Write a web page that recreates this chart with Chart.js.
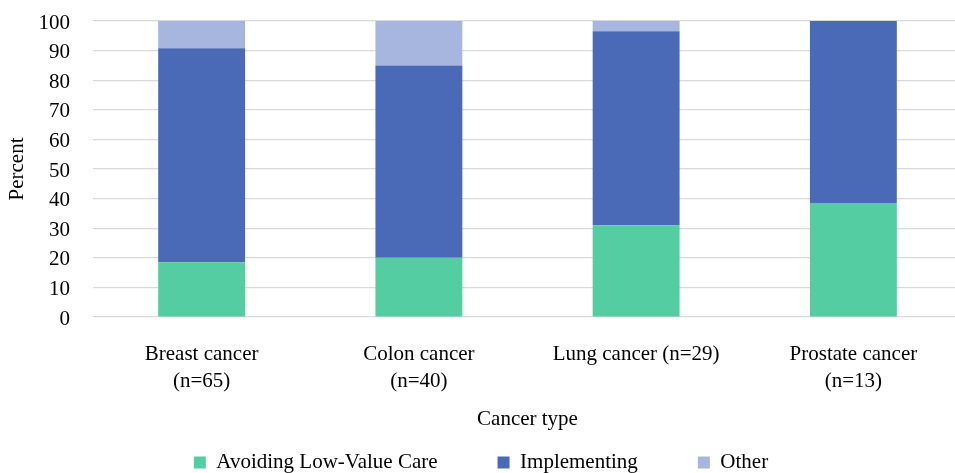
<!DOCTYPE html>
<html>
<head>
<meta charset="utf-8">
<title>Focus by cancer type</title>
<script src="https://cdn.jsdelivr.net/npm/chart.js@4.4.1/dist/chart.umd.min.js"></script>
<style>
  html, body { margin: 0; padding: 0; background: #fff; overflow: hidden; width: 955px; height: 473px; }
  #wrap { position: relative; width: 962px; height: 483px; }
</style>
</head>
<body>
<div id="wrap"><canvas id="chart"></canvas></div>
<script>
// Cancer types (multi-line labels where the original wraps)
const categories = [
  ["Breast cancer", "(n=65)"],
  ["Colon cancer", "(n=40)"],
  "Lung cancer (n=29)",
  ["Prostate cancer", "(n=13)"]
];

// Share of studies (percent) per focus
const avoidingLowValueCare = [18.5, 20.0, 31.0, 38.5];
const implementing         = [72.3, 65.0, 65.5, 61.5];
const other                = [9.2, 15.0, 3.5, 0];

// Y axis tick values
const yTicks = [0, 10, 20, 30, 40, 50, 60, 70, 80, 90, 100];

const serif = "'Liberation Serif', 'Times New Roman', Times, serif";
const textColor = "#000000";

new Chart(document.getElementById("chart"), {
  type: "bar",
  data: {
    labels: categories,
    datasets: [
      { label: "Avoiding Low-Value Care", data: avoidingLowValueCare, backgroundColor: "#55CDA3" },
      { label: "Implementing",            data: implementing,         backgroundColor: "#4A6AB7" },
      { label: "Other",                   data: other,                backgroundColor: "#A7B6DE" }
    ]
  },
  options: {
    responsive: true,
    maintainAspectRatio: false,
    animation: false,
    devicePixelRatio: 1,
    layout: { padding: { top: 21, left: 0, right: 0, bottom: 0 } },
    datasets: {
      bar: { barPercentage: 0.4, categoryPercentage: 1.0, borderWidth: 0 }
    },
    scales: {
      x: {
        stacked: true,
        grid: { display: false },
        border: { display: false },
        ticks: {
          color: textColor,
          font: { family: serif, size: 21, lineHeight: 27 / 21 },
          padding: 16,
          maxRotation: 0,
          autoSkip: false
        },
        title: {
          display: true,
          text: "Cancer type",
          color: textColor,
          font: { family: serif, size: 21 },
          padding: { top: 0, bottom: -40 }
        },
        afterFit: (s) => { s.height = 75; s.paddingLeft = 0; s.paddingRight = 0; }
      },
      y: {
        stacked: true,
        min: 0,
        max: 100,
        afterBuildTicks: (s) => { s.ticks = yTicks.map(v => ({ value: v })); },
        grid: { color: "#D9D9D9", lineWidth: 1.25, drawTicks: false },
        border: { display: false },
        ticks: {
          color: textColor,
          font: { family: serif, size: 21 },
          padding: 23,
          labelOffset: 2,
          autoSkip: false
        },
        title: {
          display: true,
          text: "Percent",
          color: textColor,
          font: { family: serif, size: 21 },
          padding: { top: 5, bottom: 0 }
        },
        afterFit: (s) => { s.width = 93; s.paddingTop = 0; s.paddingBottom = 0; }
      }
    },
    plugins: {
      legend: {
        position: "bottom",
        labels: {
          boxWidth: 12,
          boxHeight: 12,
          padding: 60,
          color: textColor,
          font: { family: serif, size: 21 }
        }
      },
      tooltip: { enabled: false }
    }
  }
});
</script>
</body>
</html>
